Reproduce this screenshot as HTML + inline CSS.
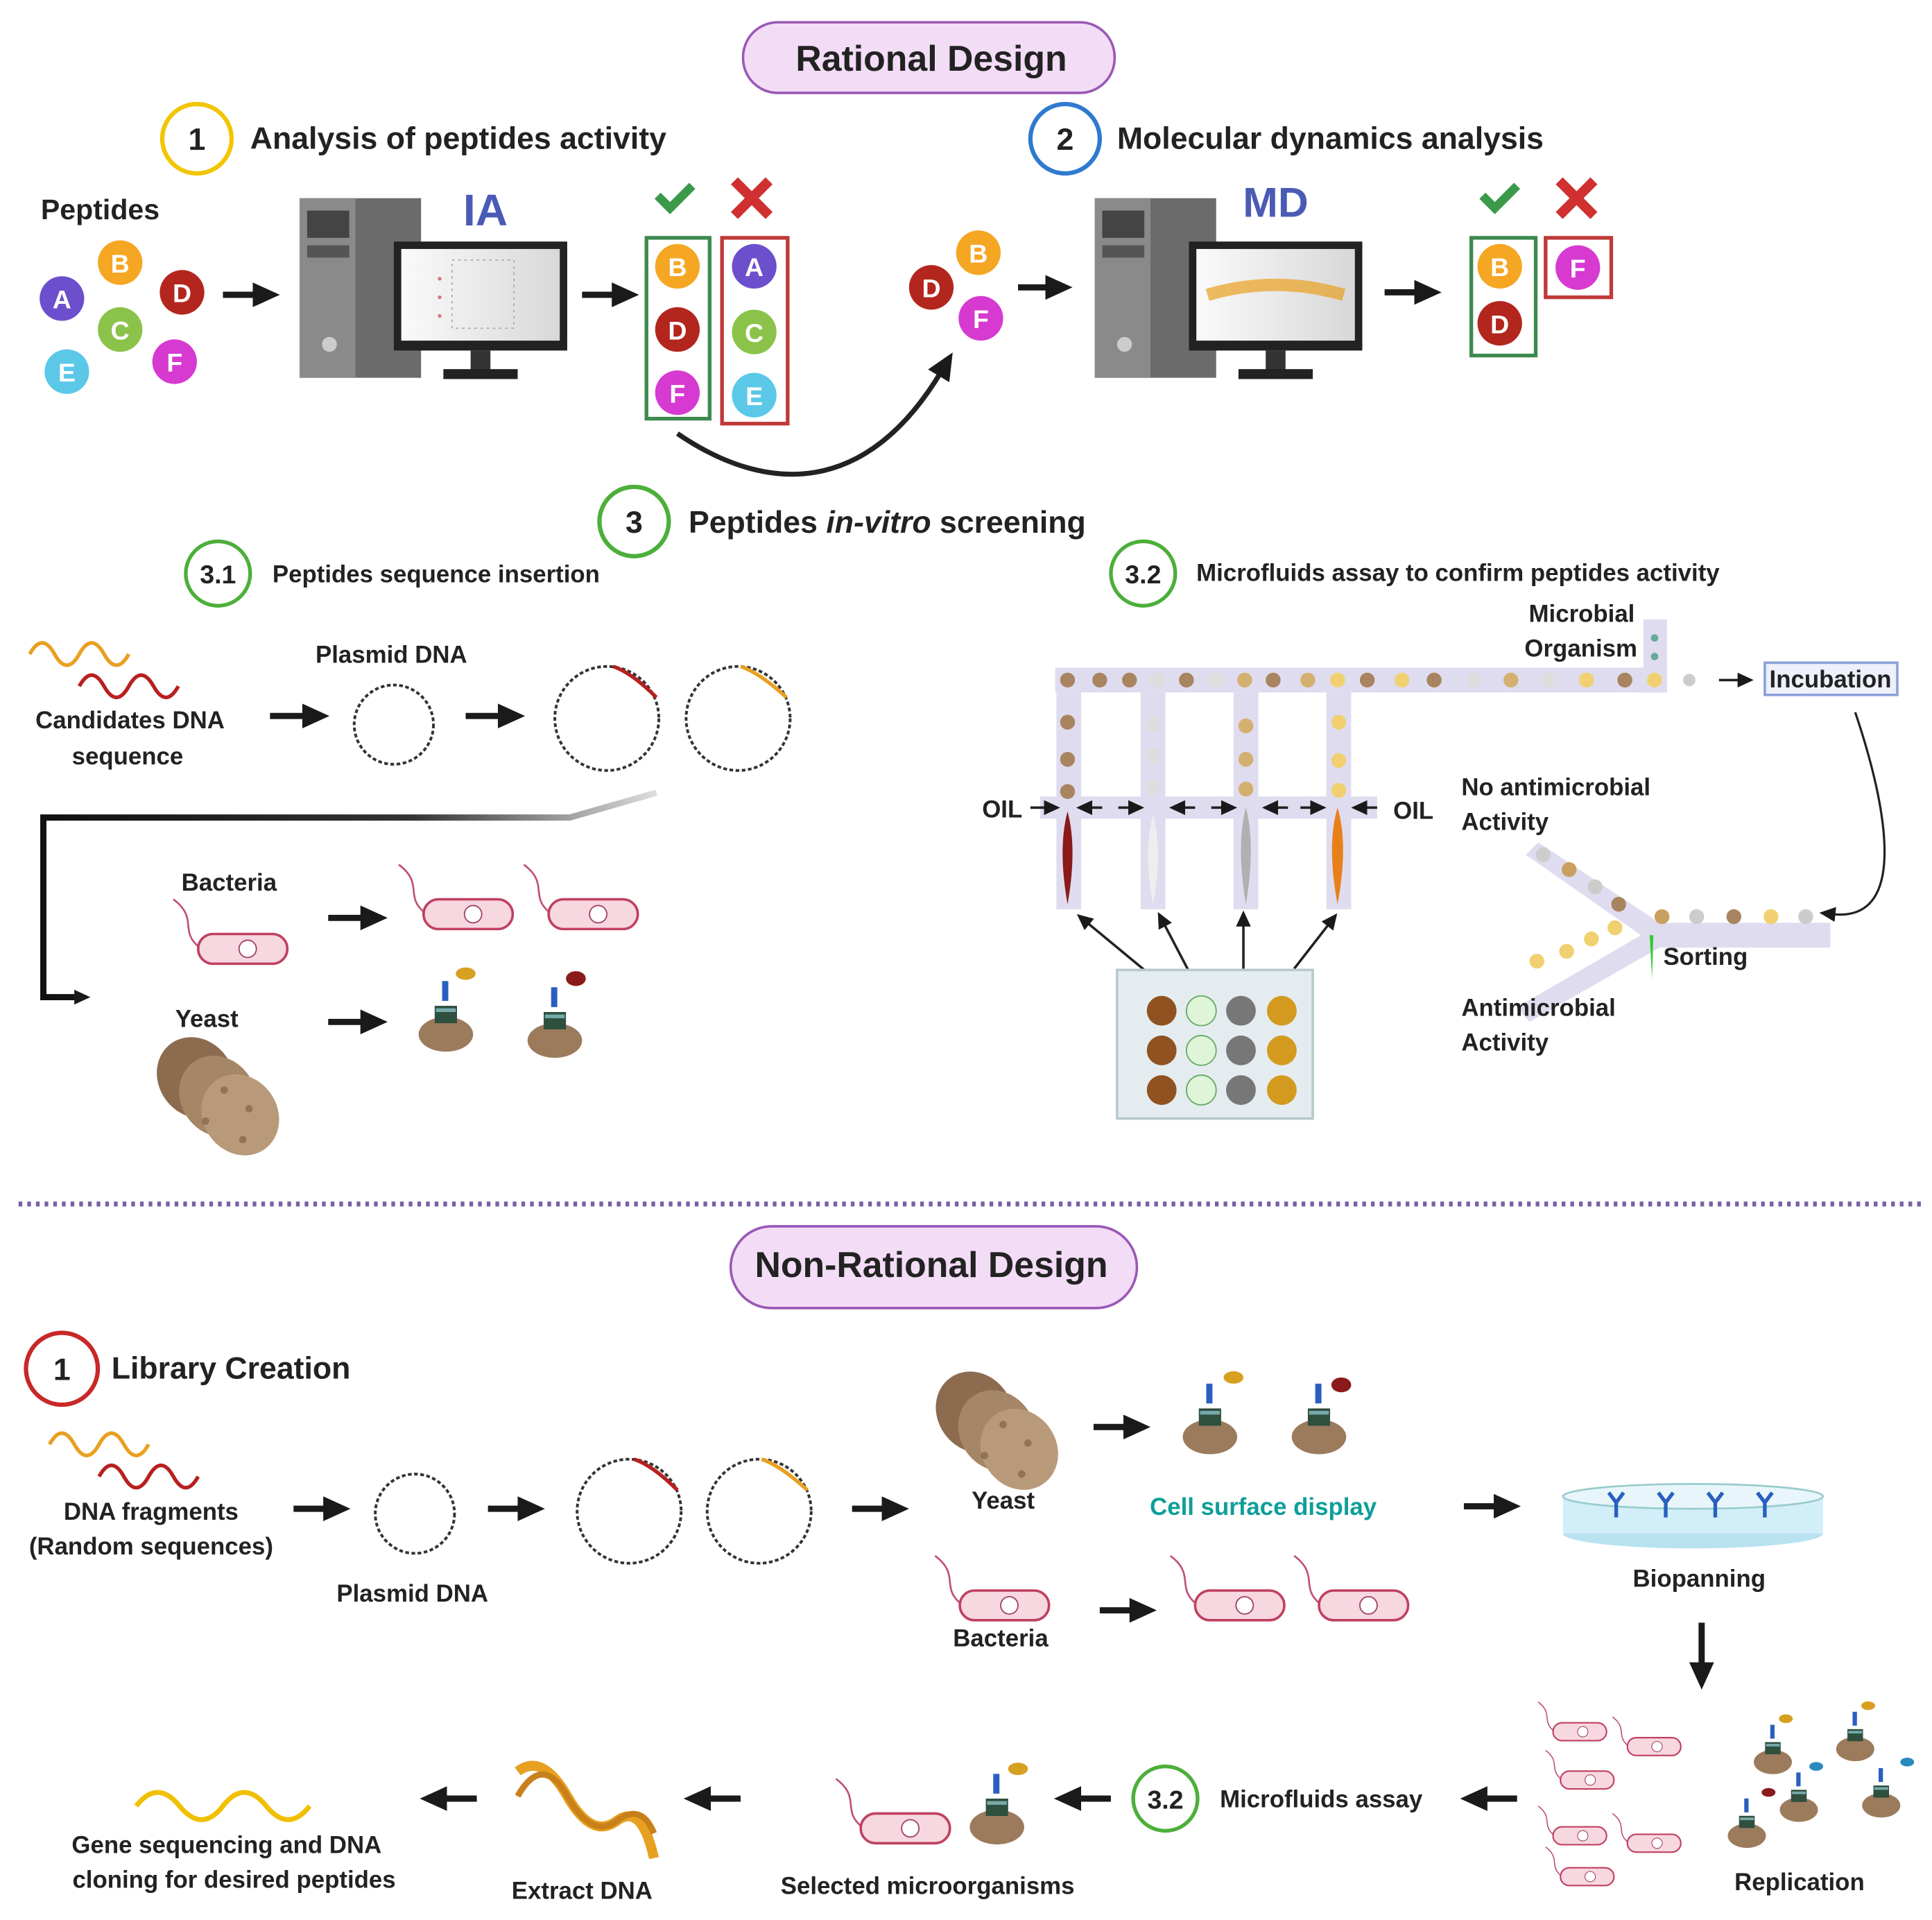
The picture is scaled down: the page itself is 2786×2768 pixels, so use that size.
<!DOCTYPE html>
<html><head><meta charset="utf-8"><style>
html,body{margin:0;padding:0;background:#fff}
svg{display:block}
text{font-family:"Liberation Sans",sans-serif;fill:#222}
.l{font-size:19.5px;font-weight:bold}
.h{font-size:25px;font-weight:bold}
.b{font-size:21px;font-weight:bold;fill:#fff}
</style></head><body>
<svg width="2786" height="2768" viewBox="0 0 1560 1550" preserveAspectRatio="none" xmlns="http://www.w3.org/2000/svg">
<defs>
<marker id="ah" markerUnits="userSpaceOnUse" markerWidth="24" markerHeight="24" refX="4" refY="12" orient="auto"><path d="M0,2 L22,12 L0,22 z" fill="#1a1a1a"/></marker>
<marker id="sa" markerUnits="userSpaceOnUse" markerWidth="14" markerHeight="14" refX="2" refY="7" orient="auto"><path d="M0,1 L13,7 L0,13 z" fill="#1a1a1a"/></marker>
<linearGradient id="fade" x1="0" x2="1"><stop offset="0" stop-color="#111"/><stop offset="0.6" stop-color="#333"/><stop offset="1" stop-color="#ddd"/></linearGradient>
<linearGradient id="scr" x1="0" x2="1"><stop offset="0" stop-color="#fafafa"/><stop offset="1" stop-color="#d8d8d8"/></linearGradient>
<g id="comp">
 <rect x="0" y="0" width="98" height="145" fill="#6b6b6b"/><rect x="0" y="0" width="45" height="145" fill="#8a8a8a"/>
 <rect x="6" y="10" width="34" height="22" fill="#444"/><rect x="6" y="38" width="34" height="10" fill="#555"/>
 <circle cx="24" cy="118" r="6" fill="#ccc"/>
 <rect x="76" y="35" width="140" height="88" fill="#222"/><rect x="82" y="41" width="128" height="74" fill="url(#scr)"/>
 <rect x="138" y="123" width="16" height="16" fill="#333"/><rect x="116" y="138" width="60" height="8" fill="#222"/>
</g>
<g id="bact"><path d="M-40,-2 C-55,-15 -40,-25 -60,-40" stroke="#c0507a" stroke-width="1.5" fill="none"/><rect x="-40" y="-12" width="72" height="24" rx="12" fill="#f7d7e0" stroke="#c04060" stroke-width="2"/><circle cx="0" cy="0" r="7" fill="#fff" stroke="#a04060" stroke-width="1"/></g>
<g id="ycell"><ellipse cx="0" cy="15" rx="22" ry="14" fill="#9b7b5c"/><rect x="-9" y="-8" width="18" height="14" fill="#2f4f3f"/><rect x="-8" y="-6" width="16" height="3" fill="#7aa"/><rect x="-3" y="-28" width="5" height="16" fill="#2a5fc0"/></g>
<g id="yeast"><ellipse cx="-18" cy="-15" rx="30" ry="34" fill="#8c6b4f" transform="rotate(-35 -18 -15)"/><ellipse cx="0" cy="0" rx="30" ry="34" fill="#a58666" transform="rotate(-35)"/><ellipse cx="18" cy="15" rx="30" ry="34" fill="#b89a7a" transform="rotate(-35 18 15)"/><g fill="#7a5a40" opacity=".6"><circle cx="5" cy="-5" r="3"/><circle cx="25" cy="10" r="3"/><circle cx="-10" cy="20" r="3"/><circle cx="20" cy="35" r="3"/></g></g>
</defs>

<rect x="600" y="18" width="300" height="57" rx="28" fill="#f3dcf6" stroke="#9a58b5" stroke-width="2"/>
<text x="752" y="57" text-anchor="middle" style="font-size:29px;font-weight:bold">Rational Design</text>

<circle cx="159" cy="112" r="28" fill="none" stroke="#f2c500" stroke-width="3.5"/><text x="159" y="121" text-anchor="middle" class="h">1</text>
<text x="202" y="120" class="h">Analysis of peptides activity</text>
<circle cx="860" cy="112" r="28" fill="none" stroke="#2f7ad0" stroke-width="3.5"/><text x="860" y="121" text-anchor="middle" class="h">2</text>
<text x="902" y="120" class="h">Molecular dynamics analysis</text>

<text x="33" y="177" style="font-size:23px;font-weight:bold">Peptides</text>
<g text-anchor="middle">
<circle cx="50" cy="241" r="18" fill="#6c4fcc"/><text x="50" y="249" class="b">A</text>
<circle cx="97" cy="212" r="18" fill="#f5a623"/><text x="97" y="220" class="b">B</text>
<circle cx="147" cy="236" r="18" fill="#b3261e"/><text x="147" y="244" class="b">D</text>
<circle cx="97" cy="266" r="18" fill="#8bc34a"/><text x="97" y="274" class="b">C</text>
<circle cx="54" cy="300" r="18" fill="#5bc8e8"/><text x="54" y="308" class="b">E</text>
<circle cx="141" cy="292" r="18" fill="#d63ad0"/><text x="141" y="300" class="b">F</text>
</g>
<line x1="180" y1="238" x2="208" y2="238" stroke="#1a1a1a" stroke-width="5" marker-end="url(#ah)"/>
<use href="#comp" x="242" y="160"/>
<g fill="#c23" opacity=".6"><circle cx="355" cy="225" r="1.5"/><circle cx="355" cy="240" r="1.5"/><circle cx="355" cy="255" r="1.5"/></g>
<rect x="365" y="210" width="50" height="55" fill="none" stroke="#aaa" stroke-dasharray="2 3"/>
<text x="392" y="182" text-anchor="middle" style="font-size:36px;font-weight:bold;fill:#4a5bb5">IA</text>
<line x1="470" y1="238" x2="498" y2="238" stroke="#1a1a1a" stroke-width="5" marker-end="url(#ah)"/>
<path d="M531,158 l10,10 l18,-18" stroke="#3a9a4a" stroke-width="7" fill="none"/>
<path d="M593,146 l28,28 M621,146 l-28,28" stroke="#d03030" stroke-width="8"/>
<rect x="522" y="192" width="51" height="146" fill="none" stroke="#3d8a4e" stroke-width="3"/>
<rect x="583" y="192" width="53" height="150" fill="none" stroke="#c03a3a" stroke-width="3"/>
<g text-anchor="middle">
<circle cx="547" cy="215" r="18" fill="#f5a623"/><text x="547" y="223" class="b">B</text>
<circle cx="547" cy="266" r="18" fill="#b3261e"/><text x="547" y="274" class="b">D</text>
<circle cx="547" cy="317" r="18" fill="#d63ad0"/><text x="547" y="325" class="b">F</text>
<circle cx="609" cy="215" r="18" fill="#6c4fcc"/><text x="609" y="223" class="b">A</text>
<circle cx="609" cy="268" r="18" fill="#8bc34a"/><text x="609" y="276" class="b">C</text>
<circle cx="609" cy="319" r="18" fill="#5bc8e8"/><text x="609" y="327" class="b">E</text>
</g>
<path d="M547,350 C620,400 700,400 760,300" stroke="#222" stroke-width="4" fill="none" marker-end="url(#ah)"/>
<g text-anchor="middle">
<circle cx="752" cy="232" r="18" fill="#b3261e"/><text x="752" y="240" class="b">D</text>
<circle cx="790" cy="204" r="18" fill="#f5a623"/><text x="790" y="212" class="b">B</text>
<circle cx="792" cy="257" r="18" fill="#d63ad0"/><text x="792" y="265" class="b">F</text>
</g>
<line x1="822" y1="232" x2="848" y2="232" stroke="#1a1a1a" stroke-width="5" marker-end="url(#ah)"/>
<use href="#comp" x="884" y="160"/>
<path d="M975,238 Q1030,222 1085,238" stroke="#e8a020" stroke-width="10" fill="none" opacity=".7"/>
<text x="1030" y="175" text-anchor="middle" style="font-size:34px;font-weight:bold;fill:#4a5bb5">MD</text>
<line x1="1118" y1="236" x2="1146" y2="236" stroke="#1a1a1a" stroke-width="5" marker-end="url(#ah)"/>
<path d="M1197,158 l10,10 l18,-18" stroke="#3a9a4a" stroke-width="7" fill="none"/>
<path d="M1259,146 l28,28 M1287,146 l-28,28" stroke="#d03030" stroke-width="8"/>
<rect x="1188" y="192" width="52" height="95" fill="none" stroke="#3d8a4e" stroke-width="3"/>
<rect x="1248" y="192" width="53" height="48" fill="none" stroke="#c03a3a" stroke-width="3"/>
<g text-anchor="middle">
<circle cx="1211" cy="215" r="18" fill="#f5a623"/><text x="1211" y="223" class="b">B</text>
<circle cx="1211" cy="261" r="18" fill="#b3261e"/><text x="1211" y="269" class="b">D</text>
<circle cx="1274" cy="216" r="18" fill="#d63ad0"/><text x="1274" y="224" class="b">F</text>
</g>

<circle cx="512" cy="421" r="28" fill="none" stroke="#4caf3a" stroke-width="3.5"/><text x="512" y="430" text-anchor="middle" class="h">3</text>
<text x="556" y="430" class="h">Peptides <tspan font-style="italic">in-vitro</tspan> screening</text>
<circle cx="176" cy="463" r="26" fill="none" stroke="#4caf3a" stroke-width="3"/><text x="176" y="471" text-anchor="middle" style="font-size:21px;font-weight:bold">3.1</text>
<text x="220" y="470" class="l">Peptides sequence insertion</text>
<circle cx="923" cy="463" r="26" fill="none" stroke="#4caf3a" stroke-width="3"/><text x="923" y="471" text-anchor="middle" style="font-size:21px;font-weight:bold">3.2</text>
<text x="966" y="469" class="l">Microfluids assay to confirm peptides activity</text>

<path d="M24,528 q10,-18 20,0 t20,0 t20,0 t20,0" stroke="#e8a020" stroke-width="3" fill="none"/>
<path d="M64,554 q10,-18 20,0 t20,0 t20,0 t20,0" stroke="#b82020" stroke-width="3" fill="none"/>
<text x="105" y="588" text-anchor="middle" class="l">Candidates DNA</text>
<text x="103" y="617" text-anchor="middle" class="l">sequence</text>
<text x="316" y="535" text-anchor="middle" class="l">Plasmid DNA</text>
<line x1="218" y1="578" x2="248" y2="578" stroke="#1a1a1a" stroke-width="5" marker-end="url(#ah)"/>
<circle cx="318" cy="585" r="32" fill="none" stroke="#333" stroke-width="2.2" stroke-dasharray="3 2"/>
<line x1="376" y1="578" x2="406" y2="578" stroke="#1a1a1a" stroke-width="5" marker-end="url(#ah)"/>
<circle cx="490" cy="580" r="42" fill="none" stroke="#333" stroke-width="2.2" stroke-dasharray="3 2"/>
<path d="M495,538 q15,5 35,25" stroke="#b82020" stroke-width="3" fill="none"/>
<circle cx="596" cy="580" r="42" fill="none" stroke="#333" stroke-width="2.2" stroke-dasharray="3 2"/>
<path d="M598,538 q15,5 37,25" stroke="#e8a020" stroke-width="3" fill="none"/>
<path d="M530,640 L460,660 L35,660 L35,805 L62,805" stroke="url(#fade)" stroke-width="5" fill="none" marker-end="url(#sa)"/>
<text x="185" y="719" text-anchor="middle" class="l">Bacteria</text>
<use href="#bact" x="200" y="766"/>
<line x1="265" y1="741" x2="295" y2="741" stroke="#1a1a1a" stroke-width="5" marker-end="url(#ah)"/>
<use href="#bact" x="382" y="738"/>
<use href="#bact" x="483" y="738"/>
<text x="167" y="829" text-anchor="middle" class="l">Yeast</text>
<use href="#yeast" x="176" y="885"/>
<line x1="265" y1="825" x2="295" y2="825" stroke="#1a1a1a" stroke-width="5" marker-end="url(#ah)"/>
<use href="#ycell" x="360" y="820"/><ellipse cx="376" cy="786" rx="8" ry="5" fill="#d8a020"/>
<use href="#ycell" x="448" y="825"/><ellipse cx="465" cy="790" rx="8" ry="6" fill="#8b1a1a"/>

<g fill="#e0dcef">
<rect x="852" y="539" width="494" height="20"/><rect x="1327" y="500" width="19" height="59"/>
<rect x="853" y="559" width="20" height="175"/><rect x="921" y="559" width="20" height="175"/><rect x="996" y="559" width="20" height="175"/><rect x="1071" y="559" width="20" height="175"/>
<rect x="840" y="643" width="272" height="18"/>
<path d="M1232,690 l10,-10 l98,65 l138,0 l0,20 l-138,0 l-105,60 l-10,-12 l100,-58 z"/>
</g>
<g>
<circle cx="862" cy="549" r="6" fill="#a88460"/><circle cx="888" cy="549" r="6" fill="#a88460"/><circle cx="912" cy="549" r="6" fill="#a88460"/><circle cx="934" cy="549" r="6" fill="#ddd"/><circle cx="958" cy="549" r="6" fill="#a88460"/><circle cx="982" cy="549" r="6" fill="#ddd"/><circle cx="1005" cy="549" r="6" fill="#d4b070"/><circle cx="1028" cy="549" r="6" fill="#a88460"/><circle cx="1056" cy="549" r="6" fill="#d4b070"/><circle cx="1080" cy="549" r="6" fill="#f0d070"/><circle cx="1104" cy="549" r="6" fill="#a88460"/><circle cx="1132" cy="549" r="6" fill="#f0d070"/><circle cx="1158" cy="549" r="6" fill="#a88460"/><circle cx="1190" cy="549" r="6" fill="#ddd"/><circle cx="1220" cy="549" r="6" fill="#d4b070"/><circle cx="1250" cy="549" r="6" fill="#ddd"/><circle cx="1281" cy="549" r="6" fill="#f0d070"/><circle cx="1312" cy="549" r="6" fill="#a88460"/><circle cx="1336" cy="549" r="6" fill="#f0d070"/><circle cx="1364" cy="549" r="5" fill="#ccc"/>
<circle cx="1336" cy="515" r="3" fill="#6a9"/><circle cx="1336" cy="530" r="3" fill="#6a9"/>
<circle cx="862" cy="583" r="6" fill="#a88460"/><circle cx="862" cy="613" r="6" fill="#a88460"/><circle cx="862" cy="639" r="6" fill="#a88460"/>
<circle cx="931" cy="585" r="6" fill="#ddd"/><circle cx="931" cy="610" r="6" fill="#ddd"/><circle cx="931" cy="636" r="6" fill="#ddd"/>
<circle cx="1006" cy="586" r="6" fill="#d4b070"/><circle cx="1006" cy="613" r="6" fill="#d4b070"/><circle cx="1006" cy="637" r="6" fill="#d4b070"/>
<circle cx="1081" cy="583" r="6" fill="#f0d070"/><circle cx="1081" cy="614" r="6" fill="#f0d070"/><circle cx="1081" cy="638" r="6" fill="#f0d070"/>
<path d="M862,655 q-8,30 0,75 q8,-45 0,-75z" fill="#8b1a1a"/>
<path d="M931,658 q-8,30 0,72 q8,-42 0,-72z" fill="#eee"/>
<path d="M1006,652 q-8,30 0,78 q8,-48 0,-78z" fill="#b0b0b0"/>
<path d="M1080,652 q-9,30 0,78 q9,-48 0,-78z" fill="#e8801a"/>
</g>
<text x="793" y="660" class="l">OIL</text><text x="1125" y="661" class="l">OIL</text>
<g stroke="#222" stroke-width="2">
<line x1="832" y1="652" x2="845" y2="652" marker-end="url(#sa)"/><line x1="890" y1="652" x2="880" y2="652" marker-end="url(#sa)"/><line x1="903" y1="652" x2="913" y2="652" marker-end="url(#sa)"/>
<line x1="965" y1="652" x2="955" y2="652" marker-end="url(#sa)"/><line x1="978" y1="652" x2="988" y2="652" marker-end="url(#sa)"/>
<line x1="1040" y1="652" x2="1030" y2="652" marker-end="url(#sa)"/><line x1="1050" y1="652" x2="1060" y2="652" marker-end="url(#sa)"/><line x1="1112" y1="652" x2="1102" y2="652" marker-end="url(#sa)"/>
<line x1="930" y1="788" x2="878" y2="745" marker-end="url(#sa)"/><line x1="962" y1="788" x2="940" y2="746" marker-end="url(#sa)"/><line x1="1004" y1="788" x2="1004" y2="746" marker-end="url(#sa)"/><line x1="1045" y1="782" x2="1073" y2="746" marker-end="url(#sa)"/>
<line x1="1388" y1="549" x2="1405" y2="549" marker-end="url(#sa)"/>
</g>
<rect x="902" y="783" width="158" height="120" fill="#e4ecef" stroke="#b8c8cc" stroke-width="2"/>
<g><circle cx="938" cy="816" r="12" fill="#8f5220"/><circle cx="970" cy="816" r="12" fill="#dff5d8" stroke="#6a6"/><circle cx="1002" cy="816" r="12" fill="#777"/><circle cx="1035" cy="816" r="12" fill="#d49a20"/>
<circle cx="938" cy="848" r="12" fill="#8f5220"/><circle cx="970" cy="848" r="12" fill="#dff5d8" stroke="#6a6"/><circle cx="1002" cy="848" r="12" fill="#777"/><circle cx="1035" cy="848" r="12" fill="#d49a20"/>
<circle cx="938" cy="880" r="12" fill="#8f5220"/><circle cx="970" cy="880" r="12" fill="#dff5d8" stroke="#6a6"/><circle cx="1002" cy="880" r="12" fill="#777"/><circle cx="1035" cy="880" r="12" fill="#d49a20"/></g>
<text x="1320" y="502" text-anchor="end" class="l">Microbial</text><text x="1322" y="530" text-anchor="end" class="l">Organism</text>
<rect x="1425" y="535" width="107" height="26" fill="#eef0fa" stroke="#8aa0d8" stroke-width="2"/>
<text x="1478" y="555" text-anchor="middle" class="l">Incubation</text>
<path d="M1498,575 C1520,640 1545,745 1480,738" stroke="#222" stroke-width="1.8" fill="none" marker-end="url(#sa)"/>
<g><circle cx="1246" cy="690" r="6" fill="#ccc"/><circle cx="1267" cy="702" r="6" fill="#c8a060"/><circle cx="1288" cy="716" r="6" fill="#ccc"/><circle cx="1307" cy="730" r="6" fill="#a88460"/>
<circle cx="1342" cy="740" r="6" fill="#c8a060"/><circle cx="1370" cy="740" r="6" fill="#ccc"/><circle cx="1400" cy="740" r="6" fill="#a88460"/><circle cx="1430" cy="740" r="6" fill="#f0d070"/><circle cx="1458" cy="740" r="6" fill="#ccc"/>
<circle cx="1241" cy="776" r="6" fill="#f0d070"/><circle cx="1265" cy="768" r="6" fill="#f0d070"/><circle cx="1285" cy="758" r="6" fill="#f0d070"/><circle cx="1304" cy="749" r="6" fill="#f0d070"/></g>
<path d="M1332,755 l3,0 l-1,35z" fill="#3c3"/>
<text x="1180" y="642" class="l">No antimicrobial</text><text x="1180" y="670" class="l">Activity</text>
<text x="1343" y="779" class="l">Sorting</text>
<text x="1180" y="820" class="l">Antimicrobial</text><text x="1180" y="848" class="l">Activity</text>

<line x1="15" y1="972" x2="1552" y2="972" stroke="#7b5ea7" stroke-width="4" stroke-dasharray="3 4"/>

<rect x="590" y="990" width="328" height="66" rx="33" fill="#f3dcf6" stroke="#9a58b5" stroke-width="2"/>
<text x="752" y="1031" text-anchor="middle" style="font-size:29px;font-weight:bold">Non-Rational Design</text>
<circle cx="50" cy="1105" r="29" fill="none" stroke="#c82828" stroke-width="3.5"/><text x="50" y="1114" text-anchor="middle" class="h">1</text>
<text x="90" y="1113" class="h">Library Creation</text>
<path d="M40,1166 q10,-18 20,0 t20,0 t20,0 t20,0" stroke="#e8a020" stroke-width="3" fill="none"/>
<path d="M80,1192 q10,-18 20,0 t20,0 t20,0 t20,0" stroke="#b82020" stroke-width="3" fill="none"/>
<text x="122" y="1227" text-anchor="middle" class="l">DNA fragments</text>
<text x="122" y="1255" text-anchor="middle" class="l">(Random sequences)</text>
<line x1="237" y1="1218" x2="265" y2="1218" stroke="#1a1a1a" stroke-width="5" marker-end="url(#ah)"/>
<circle cx="335" cy="1222" r="32" fill="none" stroke="#333" stroke-width="2.2" stroke-dasharray="3 2"/>
<text x="333" y="1293" text-anchor="middle" class="l">Plasmid DNA</text>
<line x1="394" y1="1218" x2="422" y2="1218" stroke="#1a1a1a" stroke-width="5" marker-end="url(#ah)"/>
<circle cx="508" cy="1220" r="42" fill="none" stroke="#333" stroke-width="2.2" stroke-dasharray="3 2"/>
<path d="M512,1178 q15,5 35,25" stroke="#b82020" stroke-width="3" fill="none"/>
<circle cx="613" cy="1220" r="42" fill="none" stroke="#333" stroke-width="2.2" stroke-dasharray="3 2"/>
<path d="M615,1178 q15,5 37,25" stroke="#e8a020" stroke-width="3" fill="none"/>
<line x1="688" y1="1218" x2="716" y2="1218" stroke="#1a1a1a" stroke-width="5" marker-end="url(#ah)"/>
<use href="#yeast" x="805" y="1155"/>
<text x="810" y="1218" text-anchor="middle" class="l">Yeast</text>
<line x1="883" y1="1152" x2="911" y2="1152" stroke="#1a1a1a" stroke-width="5" marker-end="url(#ah)"/>
<use href="#ycell" x="977" y="1145"/><ellipse cx="996" cy="1112" rx="8" ry="5" fill="#d8a020"/>
<use href="#ycell" x="1065" y="1145"/><ellipse cx="1083" cy="1118" rx="8" ry="6" fill="#8b1a1a"/>
<text x="1020" y="1223" text-anchor="middle" style="font-size:19.5px;font-weight:bold;fill:#0e9e98">Cell surface display</text>
<line x1="1182" y1="1216" x2="1210" y2="1216" stroke="#1a1a1a" stroke-width="5" marker-end="url(#ah)"/>
<ellipse cx="1367" cy="1238" rx="105" ry="12" fill="#b8e2f0"/>
<rect x="1262" y="1208" width="210" height="30" fill="#d2eef8"/>
<ellipse cx="1367" cy="1208" rx="105" ry="10" fill="#e8f6fb" stroke="#9cc" stroke-width="1.5"/>
<g stroke="#2a5fc0" stroke-width="3" fill="none"><path d="M1305,1225 v-12 l-6,-8 M1305,1213 l6,-8"/><path d="M1345,1225 v-12 l-6,-8 M1345,1213 l6,-8"/><path d="M1385,1225 v-12 l-6,-8 M1385,1213 l6,-8"/><path d="M1425,1225 v-12 l-6,-8 M1425,1213 l6,-8"/></g>
<text x="1372" y="1281" text-anchor="middle" class="l">Biopanning</text>
<use href="#bact" x="815" y="1296"/>
<text x="808" y="1329" text-anchor="middle" class="l">Bacteria</text>
<line x1="888" y1="1300" x2="916" y2="1300" stroke="#1a1a1a" stroke-width="5" marker-end="url(#ah)"/>
<use href="#bact" x="1005" y="1296"/><use href="#bact" x="1105" y="1296"/>
<line x1="1374" y1="1310" x2="1374" y2="1346" stroke="#1a1a1a" stroke-width="5" marker-end="url(#ah)"/>

<g transform="translate(1290,1440) scale(0.6)"><use href="#bact" x="-20" y="-70"/><use href="#bact" x="80" y="-50"/><use href="#bact" x="-10" y="-5"/><use href="#bact" x="-20" y="70"/><use href="#bact" x="80" y="80"/><use href="#bact" x="-10" y="125"/></g>
<g transform="translate(1470,1440) scale(0.7)"><use href="#ycell" x="-55" y="-40"/><use href="#ycell" x="40" y="-55"/><use href="#ycell" x="-25" y="15"/><use href="#ycell" x="70" y="10"/><use href="#ycell" x="-85" y="45"/><ellipse cx="-40" cy="-75" rx="8" ry="5" fill="#d8a020"/><ellipse cx="55" cy="-90" rx="8" ry="5" fill="#d8a020"/><ellipse cx="100" cy="-25" rx="8" ry="5" fill="#2a8ac0"/><ellipse cx="-5" cy="-20" rx="8" ry="5" fill="#2a8ac0"/><ellipse cx="-60" cy="10" rx="8" ry="5" fill="#8b1a1a"/></g>
<text x="1453" y="1526" text-anchor="middle" class="l">Replication</text>
<line x1="1225" y1="1452" x2="1197" y2="1452" stroke="#1a1a1a" stroke-width="5" marker-end="url(#ah)"/>
<circle cx="941" cy="1452" r="26" fill="none" stroke="#4caf3a" stroke-width="3"/><text x="941" y="1460" text-anchor="middle" style="font-size:21px;font-weight:bold">3.2</text>
<text x="985" y="1459" class="l">Microfluids assay</text>
<line x1="897" y1="1452" x2="869" y2="1452" stroke="#1a1a1a" stroke-width="5" marker-end="url(#ah)"/>
<use href="#bact" x="735" y="1476"/>
<use href="#ycell" x="805" y="1460"/><ellipse cx="822" cy="1428" rx="8" ry="5" fill="#d8a020"/>
<text x="749" y="1529" text-anchor="middle" class="l">Selected microorganisms</text>
<line x1="598" y1="1452" x2="570" y2="1452" stroke="#1a1a1a" stroke-width="5" marker-end="url(#ah)"/>
<path d="M418,1430 q20,-15 40,20 t40,20 t30,30" stroke="#e8a020" stroke-width="8" fill="none"/>
<path d="M418,1450 q20,-35 40,0 t40,20 t30,10" stroke="#c8801a" stroke-width="5" fill="none"/>
<text x="470" y="1533" text-anchor="middle" class="l">Extract DNA</text>
<line x1="385" y1="1452" x2="357" y2="1452" stroke="#1a1a1a" stroke-width="5" marker-end="url(#ah)"/>
<path d="M110,1458 q17,-22 35,0 t35,0 t35,0 t35,0" stroke="#f0c000" stroke-width="4" fill="none"/>
<text x="183" y="1496" text-anchor="middle" class="l">Gene sequencing and DNA</text>
<text x="189" y="1524" text-anchor="middle" class="l">cloning for desired peptides</text>
</svg>
</body></html>
